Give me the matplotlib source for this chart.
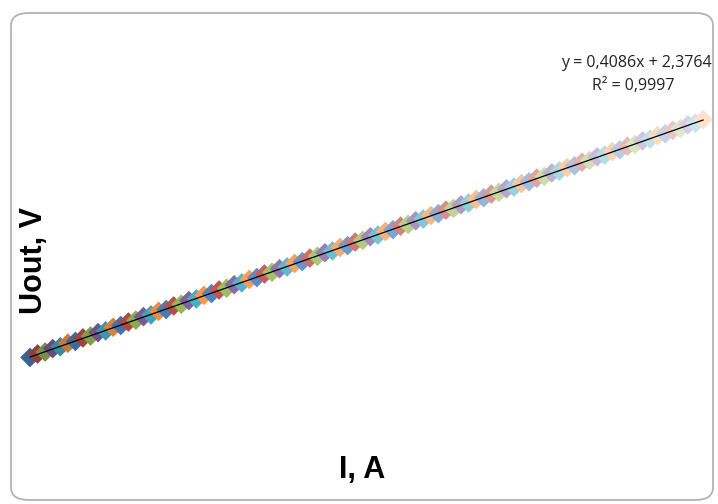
import matplotlib
matplotlib.use('Agg')
import matplotlib.pyplot as plt
from matplotlib.patches import FancyBboxPatch
import matplotlib.colors as mcolors

# measured current, A
current = [1, 2, 3, 4, 5, 6, 7, 8, 9, 10,
           11, 12, 13, 14, 15, 16, 17, 18, 19, 20,
           21, 22, 23, 24, 25, 26, 27, 28, 29, 30,
           31, 32, 33, 34, 35, 36, 37, 38, 39, 40,
           41, 42, 43, 44, 45, 46, 47, 48, 49, 50,
           51, 52, 53, 54, 55, 56, 57, 58, 59, 60,
           61, 62, 63, 64, 65, 66, 67, 68, 69, 70,
           71, 72, 73, 74, 75, 76, 77, 78, 79, 80,
           81, 82, 83, 84, 85, 86, 87, 88, 89, 90]
# output voltage, V
uout = [2.72, 3.25, 3.55, 4.08, 4.36, 4.90, 5.18, 5.71, 6.00, 6.53,
        6.80, 7.35, 7.62, 8.15, 8.44, 8.98, 9.25, 9.80, 10.07, 10.62,
        10.88, 11.44, 11.70, 12.25, 12.52, 13.07, 13.34, 13.88, 14.16, 14.70,
        14.97, 15.52, 15.79, 16.33, 16.61, 17.15, 17.42, 17.97, 18.24, 18.78,
        19.06, 19.60, 19.87, 20.42, 20.69, 21.24, 21.51, 22.05, 22.33, 22.87,
        23.14, 23.69, 23.96, 24.51, 24.78, 25.32, 25.60, 26.14, 26.41, 26.96,
        27.23, 27.78, 28.05, 28.59, 28.86, 29.41, 29.68, 30.23, 30.50, 31.04,
        31.32, 31.86, 32.13, 32.68, 32.95, 33.50, 33.77, 34.31, 34.58, 35.13,
        35.40, 35.95, 36.22, 36.76, 37.04, 37.58, 37.85, 38.40, 38.67, 39.22]

slope, intercept = 0.4086, 2.3764
eq_text = 'y = 0,4086x + 2,3764'
r2_text = 'R² = 0,9997'

palette = ['#4F81BD', '#C0504D', '#9BBB59', '#8064A2', '#4BACC6', '#F79646']

def shade(c, t):
    r, g, b = mcolors.to_rgb(c)
    if t < 0:
        k = 1 + t
        return (r * k, g * k, b * k)
    return (r + (1 - r) * t, g + (1 - g) * t, b + (1 - b) * t)

n = len(current)
colors = []
for i in range(n):
    t = -0.25 + 1.0 * i / (n - 1)
    if t > 0:
        t = t * 0.95
    colors.append(shade(palette[i % 6], t))

fig = plt.figure(figsize=(7.18, 5.04), dpi=100)
ax = fig.add_axes([0, 0, 1, 1])
ax.set_xlim(-2.967, 91.98)
ax.set_ylim(-19.77, 57.57)
ax.axis('off')

ax.scatter(current, uout, c=colors, marker='D', s=100, linewidths=0, zorder=2)
fit_y = [slope * x + intercept for x in (current[0], current[-1])]
ax.plot([current[0], current[-1]], fit_y, color='black', lw=0.9, zorder=3)

# chart border
border = FancyBboxPatch((11 / 718, 4 / 504), 702 / 718, 487 / 504,
                        boxstyle='round,pad=0,rounding_size=0.025',
                        transform=fig.transFigure, fill=False,
                        edgecolor='#b3b3b3', lw=1.3)
fig.patches.append(border)

fig.text(636 / 718, 1 - 63 / 504, eq_text, ha='center', va='center',
         fontsize=11.5, family='Open Sans', color='#222222')
fig.text(633 / 718, 1 - 86 / 504, r2_text, ha='center', va='center',
         fontsize=11.5, family='Open Sans', color='#222222')

fig.text(34 / 718, 1 - 261 / 504, 'Uout, V', rotation=90, ha='center', va='center',
         fontsize=22, fontweight='bold', family='Liberation Sans')
fig.text(362 / 718, 1 - 470 / 504, 'I, A', ha='center', va='center',
         fontsize=22, fontweight='bold', family='Liberation Sans')

fig.savefig('out.png', dpi=100)
